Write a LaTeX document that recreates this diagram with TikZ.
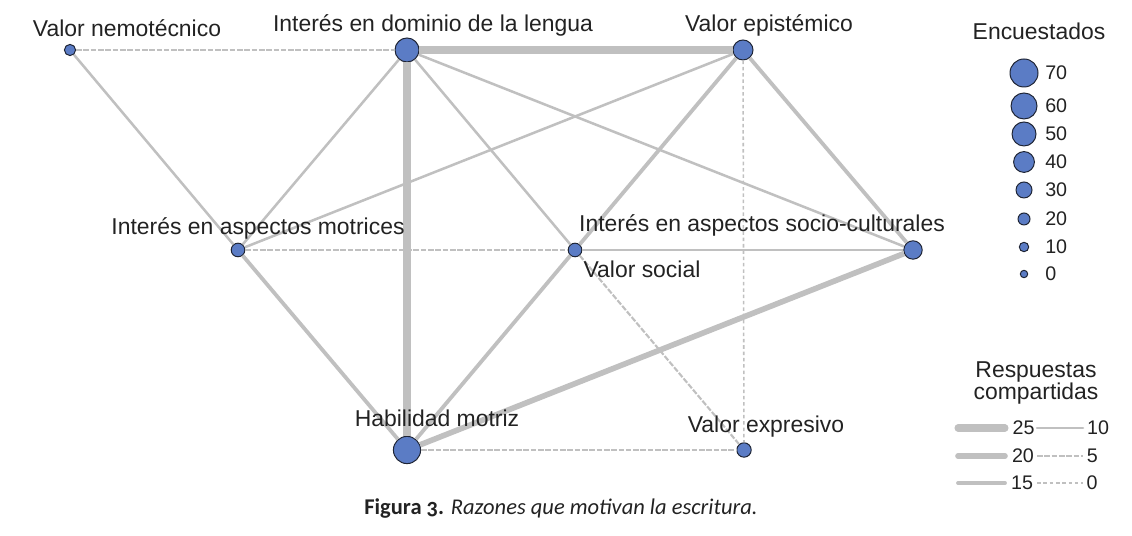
\documentclass[tikz,border=0pt]{standalone}
\usepackage{fontspec}
\setmainfont{Liberation Sans}
\newfontfamily\capfont{Carlito}[Numbers=OldStyle]
\definecolor{nodeblue}{RGB}{91,124,197}
\definecolor{nodeline}{RGB}{30,36,52}
\definecolor{edgegray}{RGB}{192,192,192}
\definecolor{txt}{RGB}{34,34,34}
\begin{document}
\begin{tikzpicture}[x=0.025cm, y=-0.025cm,
  main/.style = {draw=nodeline, fill=nodeblue, circle, inner sep=0pt, line width=0.7pt, minimum size=#1},
  main/.default = 0.4cm,
  lbl/.style = {anchor=base, inner sep=0pt, text=txt, font=\fontsize{16.3}{19}\selectfont},
  num/.style = {anchor=west, inner sep=0pt, text=txt, font=\fontsize{14}{16}\selectfont},
  w25/.style = {draw=edgegray, line width=5pt},
  w20/.style = {draw=edgegray, line width=4pt},
  w15/.style = {draw=edgegray, line width=2.7pt},
  w10/.style = {draw=edgegray, line width=1.8pt},
  w5/.style = {draw=edgegray, line width=1.5pt, dash pattern=on 4pt off 1.2pt},
  w0/.style = {draw=edgegray, line width=1.1pt, dash pattern=on 2.5pt off 2pt}]
\useasboundingbox (0,0) rectangle (1132,536);
\node[main=0.28cm] (1) at (70,50) {};
\node[main=0.6cm] (2) at (407,50) {};
\node[main=0.5cm] (3) at (743,50) {};
\node[main=0.34cm] (4) at (238,250) {};
\node[main=0.34cm] (5) at (575,250) {};
\node[main=0.46cm] (6) at (913,250) {};
\node[main=0.68cm] (7) at (407,450) {};
\node[main=0.36cm] (8) at (744,450) {};
\path (1) edge[w5] (2);
\path (1) edge[w10] (4);
\path (2) edge[w25] (3);
\path (2) edge[w25] (7);
\path (2) edge[w10] (4);
\path (2) edge[w10] (5);
\path (2) edge[w10] (6);
\path (3) edge[w10] (4);
\path (3) edge[w15] (5);
\path (3) edge[w15] (6);
\path (3) edge[w0] (8);
\path (4) edge[w5] (5);
\path (4) edge[w15] (7);
\path (5) edge[w10] (6);
\path (5) edge[w15] (7);
\path (5) edge[w5] (8);
\path (6) edge[w20] (7);
\path (7) edge[w5] (8);
\node[lbl] (l1) at (127,37) {Valor nemotécnico};
\node[lbl] (l2) at (433,32) {Interés en dominio de la lengua};
\node[lbl] (l3) at (769,32) {Valor epistémico};
\node[lbl] (l4) at (258,235) {Interés en aspectos motrices};
\node[lbl] (l5) at (762,232) {Interés en aspectos socio-culturales};
\node[lbl] (l6) at (642,278) {Valor social};
\node[lbl] (l7) at (437,427) {Habilidad motriz};
\node[lbl] (l8) at (766,433) {Valor expresivo};
\node[lbl] (t1) at (1039,40) {Encuestados};
\node[main=0.7cm] (e1) at (1024,73) {};
\node[main=0.65cm] (e2) at (1024,106) {};
\node[main=0.6cm] (e3) at (1024,134) {};
\node[main=0.52cm] (e4) at (1024,162) {};
\node[main=0.4cm] (e5) at (1024,190) {};
\node[main=0.3cm] (e6) at (1024,219) {};
\node[main=0.235cm] (e7) at (1024,247) {};
\node[main=0.185cm] (e8) at (1024,274) {};
\node[num] (n1) at (1045,73) {70};
\node[num] (n2) at (1045,106) {60};
\node[num] (n3) at (1045,134) {50};
\node[num] (n4) at (1045,162) {40};
\node[num] (n5) at (1045,190) {30};
\node[num] (n6) at (1045,219) {20};
\node[num] (n7) at (1045,247) {10};
\node[num] (n8) at (1045,274) {0};
\node[lbl] (t2) at (1036,378) {Respuestas};
\node[lbl] (t3) at (1036,400) {compartidas};
\draw[w25, line cap=round] (958,428) -- (1005,428) node[num, right=3pt] (s1) {25};
\draw[w20, line cap=round] (958,456) -- (1005,456) node[num, right=3pt] (s2) {20};
\draw[w15, line cap=round] (958,483) -- (1005,483) node[num, right=3pt] (s3) {15};
\draw[w10, line cap=round] (1037,428) -- (1083,428) node[num, right=2pt] (s4) {10};
\draw[w5] (1037,456) -- (1083,456) node[num, right=2pt] (s5) {5};
\draw[w0] (1037,483) -- (1083,483) node[num, right=2pt] (s6) {0};
\node[anchor=base, text=txt, font=\capfont\fontsize{16}{19}\selectfont] (cap) at (561,515)
  {\textbf{Figura 3.} \textit{Razones que motivan la escritura.}};
\end{tikzpicture}
\end{document}
